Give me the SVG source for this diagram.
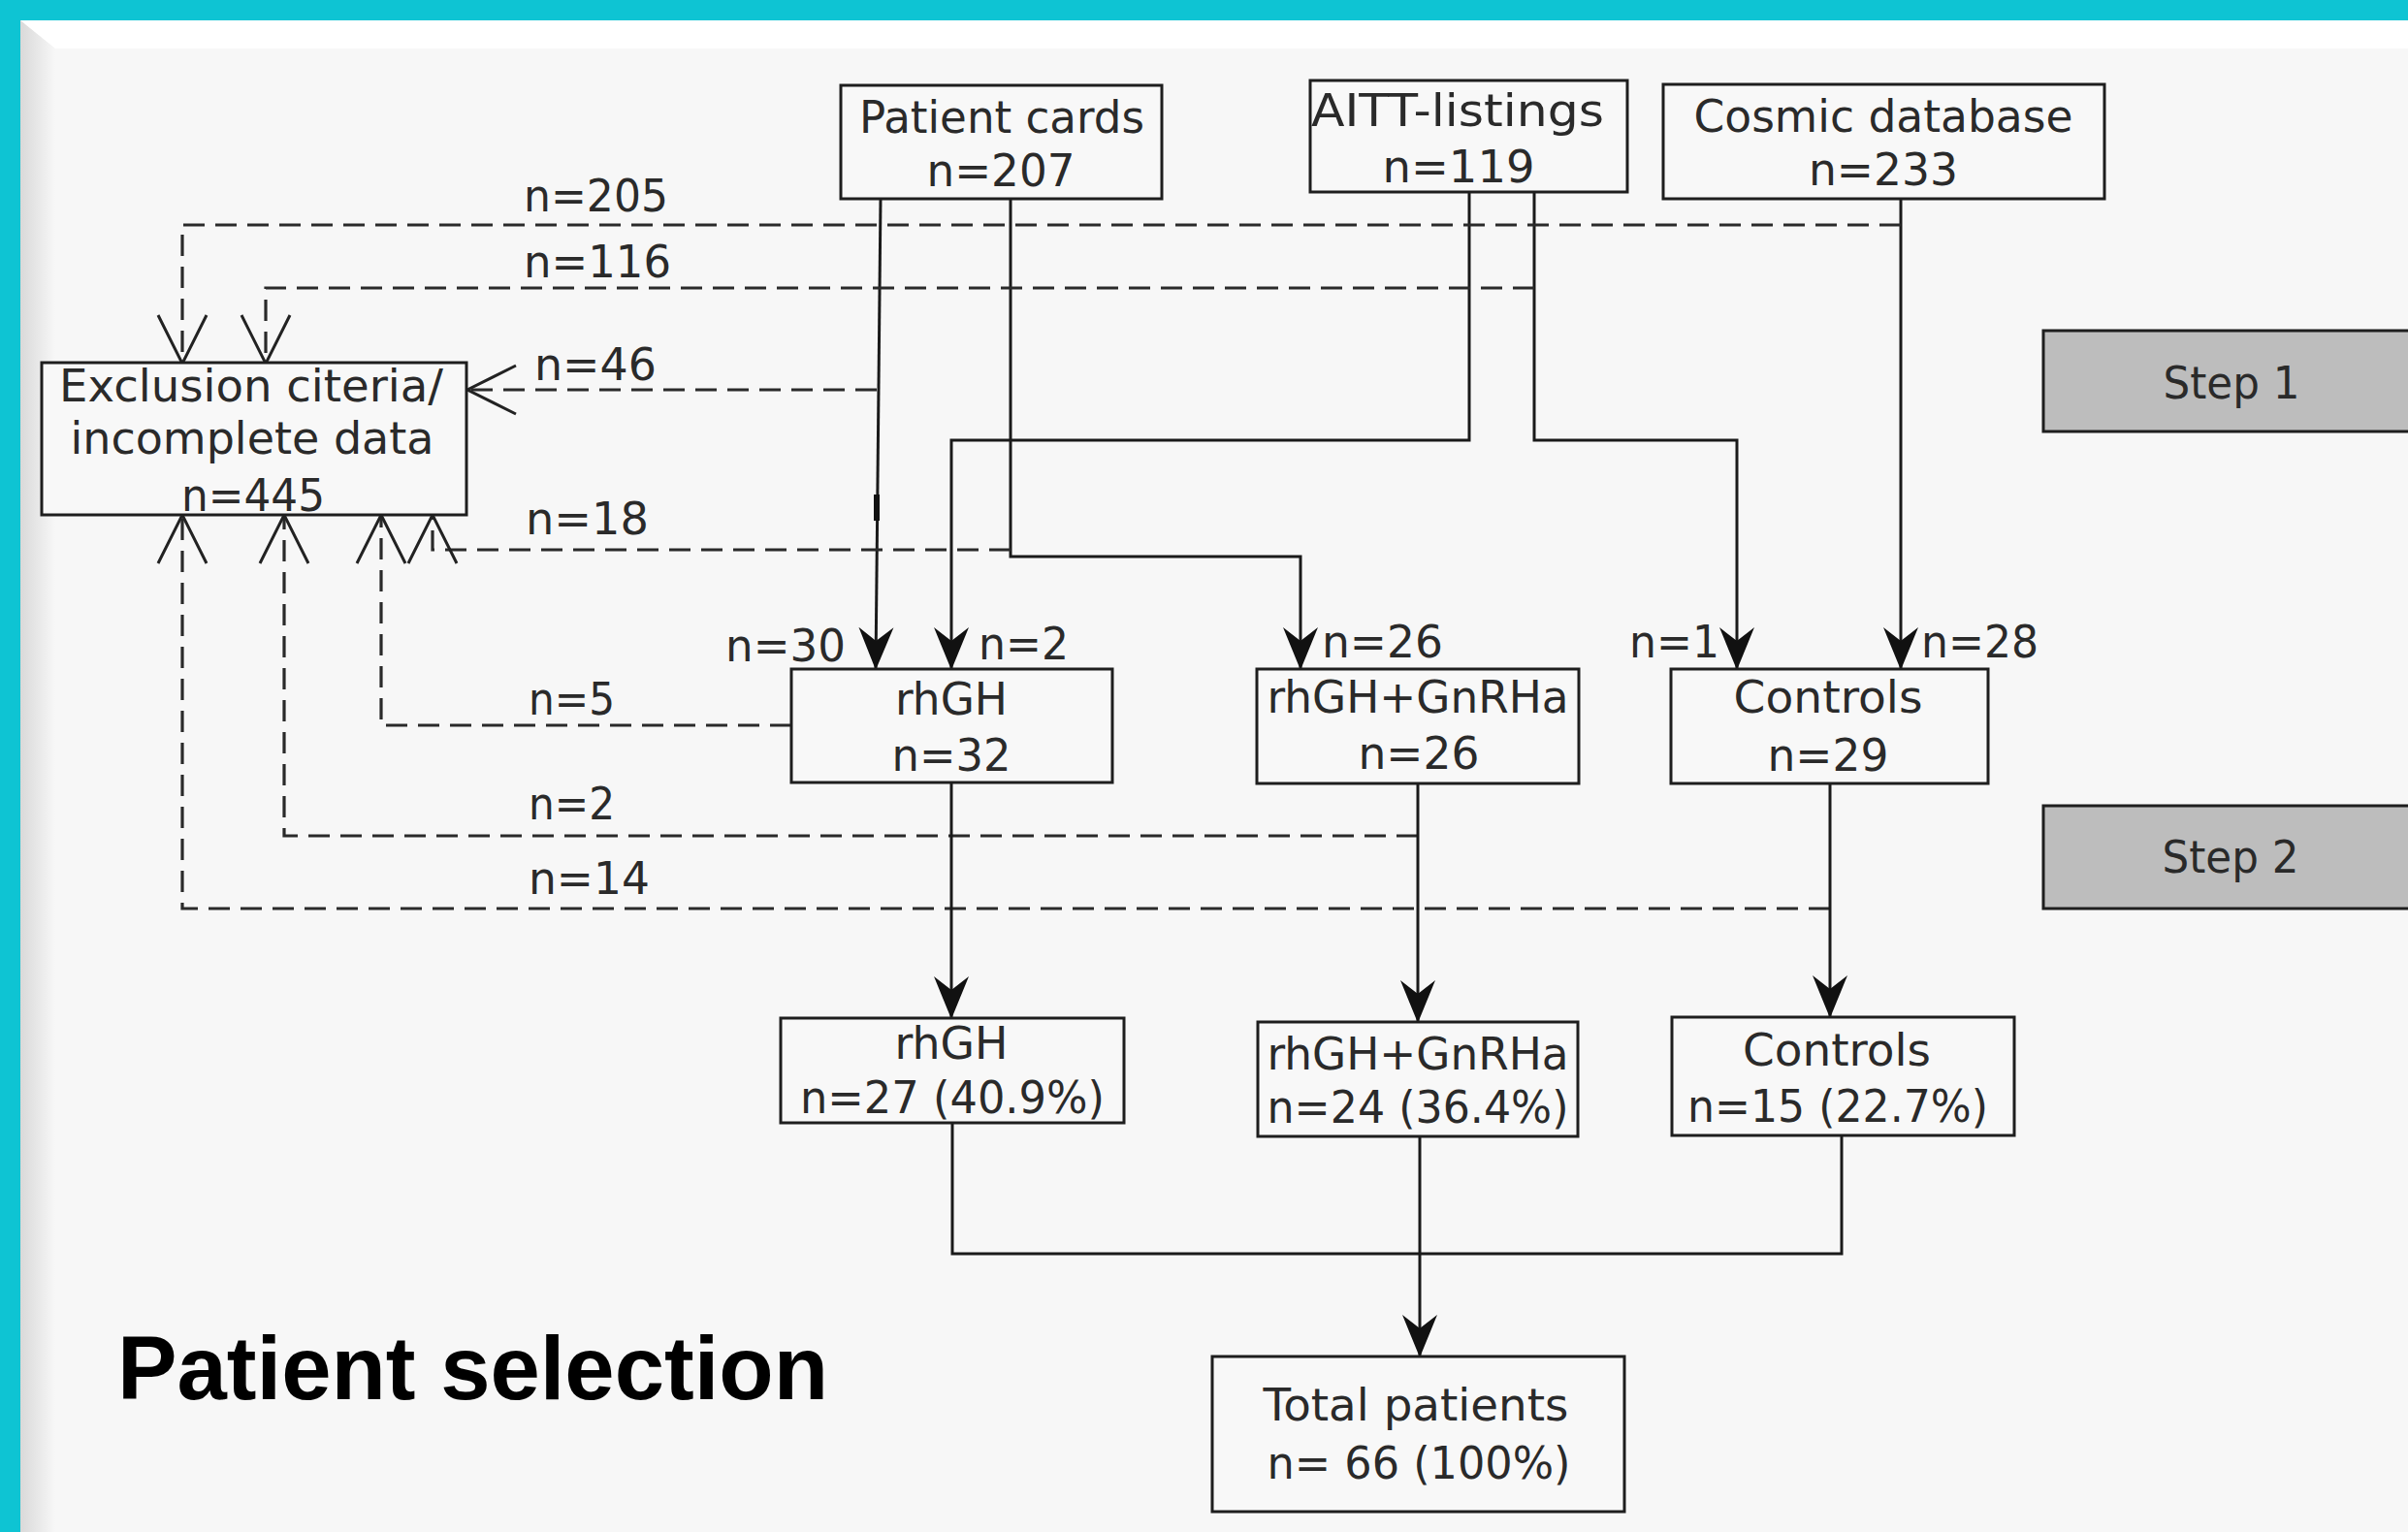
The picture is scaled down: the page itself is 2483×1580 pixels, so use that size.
<svg xmlns="http://www.w3.org/2000/svg" width="2483" height="1580" viewBox="0 0 2483 1580">
<defs>
<linearGradient id="lsh" x1="0" y1="0" x2="1" y2="0">
<stop offset="0" stop-color="#d9d9d9"/>
<stop offset="1" stop-color="#f7f7f7"/>
</linearGradient>
<marker id="fa" viewBox="-46 -20 50 40" refX="0" refY="0" markerWidth="50" markerHeight="40" markerUnits="userSpaceOnUse" orient="auto">
<path d="M1,0 L-43,-18 L-29,0 L-43,18 Z" fill="#111"/>
</marker>
<marker id="oa" viewBox="-54 -28 60 56" refX="0" refY="0" markerWidth="60" markerHeight="56" markerUnits="userSpaceOnUse" orient="auto">
<path d="M-50,-25 L0,0 L-50,25" fill="none" stroke="#222" stroke-width="3"/>
</marker>
<style>
.box{fill:#f8f8f8;stroke:#1e1e1e;stroke-width:3}
.step{fill:#bdbdbd;stroke:#1e1e1e;stroke-width:3}
.t{font-family:"DejaVu Sans",Verdana,sans-serif;font-size:47px;fill:#2a2a2a}
.c{text-anchor:middle}
.ln{fill:none;stroke:#1a1a1a;stroke-width:3}
.sa{marker-end:url(#fa)}
.dl{fill:none;stroke:#2a2a2a;stroke-width:3.2;stroke-dasharray:22 11}
.oa{marker-end:url(#oa)}
.title{font-family:"Liberation Sans",Arial,sans-serif;font-weight:bold;font-size:93px;fill:#000}
</style>
</defs>

<g id="background">
<rect x="0" y="0" width="2483" height="1580" fill="#0ec4d3"/>
<rect x="21" y="21" width="2462" height="1559" fill="#f7f7f7"/>
<rect x="21" y="21" width="36" height="1559" fill="url(#lsh)"/>
<polygon points="21,21 2483,21 2483,50 57,50" fill="#ffffff"/>
</g>

<g id="connectors">
<path class="ln sa" d="M908,205 L903,690"/>
<path class="ln sa" d="M1042,205 V574 H1341 V690"/>
<path class="ln sa" d="M1515,198 V454 H981 V690"/>
<path class="ln sa" d="M1582,198 V454 H1791 V690"/>
<path class="ln sa" d="M1960,205 V690"/>
<line x1="904" y1="510" x2="904" y2="537" stroke="#111" stroke-width="6"/>
<path class="dl oa" d="M1960,232 H188 V375"/>
<path class="dl oa" d="M1582,297 H274 V375"/>
<path class="dl oa" d="M904,402 H482"/>
<path class="dl oa" d="M1042,567 H446 V531"/>
<path class="dl oa" d="M816,748 H393 V531"/>
<path class="dl oa" d="M1462,862 H293 V531"/>
<path class="dl oa" d="M1887,937 H188 V531"/>
<path class="ln sa" d="M981,808 V1050"/>
<path class="ln sa" d="M1462,808 V1054"/>
<path class="ln sa" d="M1887,808 V1049"/>
<path class="ln" d="M982,1158 V1293 H1899 V1171"/>
<path class="ln sa" d="M1464,1172 V1399"/>
</g>

<g id="n-patient-cards">
<rect class="box" x="867" y="88" width="331" height="117"/>
<text class="t c" x="1033" y="137" textLength="294" lengthAdjust="spacingAndGlyphs">Patient cards</text>
<text class="t c" x="1032" y="192" textLength="153" lengthAdjust="spacingAndGlyphs">n=207</text>
</g>
<g id="n-aitt">
<rect class="box" x="1351" y="83" width="327" height="115"/>
<text class="t c" x="1503" y="130" textLength="302" lengthAdjust="spacingAndGlyphs">AITT-listings</text>
<text class="t c" x="1504" y="188" textLength="157" lengthAdjust="spacingAndGlyphs">n=119</text>
</g>
<g id="n-cosmic">
<rect class="box" x="1715" y="87" width="455" height="118"/>
<text class="t c" x="1942" y="136" textLength="391" lengthAdjust="spacingAndGlyphs">Cosmic database</text>
<text class="t c" x="1942" y="191" textLength="154" lengthAdjust="spacingAndGlyphs">n=233</text>
</g>
<g id="n-exclusion">
<rect class="box" x="43" y="374" width="438" height="157"/>
<text class="t c" x="259" y="414" textLength="396" lengthAdjust="spacingAndGlyphs">Exclusion citeria/</text>
<text class="t c" x="260" y="468" textLength="375" lengthAdjust="spacingAndGlyphs">incomplete data</text>
<text class="t c" x="261" y="527" textLength="148" lengthAdjust="spacingAndGlyphs">n=445</text>
</g>
<g id="n-step1">
<rect class="step" x="2107" y="341" width="400" height="104"/>
<text class="t c" x="2301" y="411" textLength="141" lengthAdjust="spacingAndGlyphs">Step 1</text>
</g>
<g id="n-step2">
<rect class="step" x="2107" y="831" width="400" height="106"/>
<text class="t c" x="2300" y="900" textLength="141" lengthAdjust="spacingAndGlyphs">Step 2</text>
</g>
<g id="n-rhgh-1">
<rect class="box" x="816" y="690" width="331" height="117"/>
<text class="t c" x="981" y="737" textLength="116" lengthAdjust="spacingAndGlyphs">rhGH</text>
<text class="t c" x="981" y="795" textLength="123" lengthAdjust="spacingAndGlyphs">n=32</text>
</g>
<g id="n-combo-1">
<rect class="box" x="1296" y="690" width="332" height="118"/>
<text class="t c" x="1462" y="735" textLength="311" lengthAdjust="spacingAndGlyphs">rhGH+GnRHa</text>
<text class="t c" x="1463" y="793" textLength="125" lengthAdjust="spacingAndGlyphs">n=26</text>
</g>
<g id="n-controls-1">
<rect class="box" x="1723" y="690" width="327" height="118"/>
<text class="t c" x="1885" y="735" textLength="195" lengthAdjust="spacingAndGlyphs">Controls</text>
<text class="t c" x="1885" y="795" textLength="125" lengthAdjust="spacingAndGlyphs">n=29</text>
</g>
<g id="n-rhgh-2">
<rect class="box" x="805" y="1050" width="354" height="108"/>
<text class="t c" x="981" y="1092" textLength="117" lengthAdjust="spacingAndGlyphs">rhGH</text>
<text class="t c" x="982" y="1148" textLength="314" lengthAdjust="spacingAndGlyphs">n=27 (40.9%)</text>
</g>
<g id="n-combo-2">
<rect class="box" x="1297" y="1054" width="330" height="118"/>
<text class="t c" x="1462" y="1103" textLength="311" lengthAdjust="spacingAndGlyphs">rhGH+GnRHa</text>
<text class="t c" x="1462" y="1158" textLength="311" lengthAdjust="spacingAndGlyphs">n=24 (36.4%)</text>
</g>
<g id="n-controls-2">
<rect class="box" x="1724" y="1049" width="353" height="122"/>
<text class="t c" x="1894" y="1099" textLength="194" lengthAdjust="spacingAndGlyphs">Controls</text>
<text class="t c" x="1895" y="1157" textLength="310" lengthAdjust="spacingAndGlyphs">n=15 (22.7%)</text>
</g>
<g id="n-total">
<rect class="box" x="1250" y="1399" width="425" height="160"/>
<text class="t c" x="1460" y="1465" textLength="315" lengthAdjust="spacingAndGlyphs">Total patients</text>
<text class="t c" x="1463" y="1525" textLength="313" lengthAdjust="spacingAndGlyphs">n= 66 (100%)</text>
</g>

<g id="labels">
<text class="t" x="540" y="218" textLength="149" lengthAdjust="spacingAndGlyphs">n=205</text>
<text class="t" x="540" y="286" textLength="152" lengthAdjust="spacingAndGlyphs">n=116</text>
<text class="t" x="551" y="392" textLength="126" lengthAdjust="spacingAndGlyphs">n=46</text>
<text class="t" x="542" y="551" textLength="127" lengthAdjust="spacingAndGlyphs">n=18</text>
<text class="t" x="545" y="737" textLength="89" lengthAdjust="spacingAndGlyphs">n=5</text>
<text class="t" x="545" y="845" textLength="89" lengthAdjust="spacingAndGlyphs">n=2</text>
<text class="t" x="545" y="922" textLength="125" lengthAdjust="spacingAndGlyphs">n=14</text>
<text class="t" x="748" y="682" textLength="124" lengthAdjust="spacingAndGlyphs">n=30</text>
<text class="t" x="1009" y="680" textLength="93" lengthAdjust="spacingAndGlyphs">n=2</text>
<text class="t" x="1363" y="678" textLength="125" lengthAdjust="spacingAndGlyphs">n=26</text>
<text class="t" x="1680" y="678" textLength="93" lengthAdjust="spacingAndGlyphs">n=1</text>
<text class="t" x="1981" y="678" textLength="121" lengthAdjust="spacingAndGlyphs">n=28</text>
</g>

<text class="title" x="121" y="1443" textLength="733" lengthAdjust="spacingAndGlyphs">Patient selection</text>
</svg>
